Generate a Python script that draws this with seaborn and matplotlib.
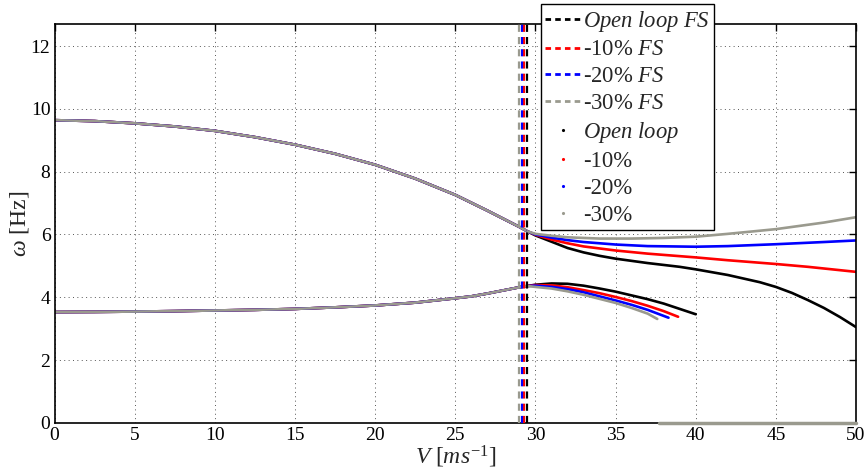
import numpy as np
import pandas as pd
import matplotlib
matplotlib.use("Agg")
import matplotlib.pyplot as plt
import seaborn as sns
from matplotlib.lines import Line2D

# ---------------- data ----------------
series_names = ["Open loop", "-10%", "-20%", "-30%"]
series_colors = ["#000000", "#ff0000", "#0000ff", "#9a9a8e"]
flutter_speeds = [29.45, 29.3, 29.15, 29.0]

# common part of the two modes (all configurations coincide)
v_common = [0, 2.5, 5, 7.5, 10, 12.5, 15, 17.5, 20, 22.5, 25, 26, 27, 28, 29, 29.5]
upper_common = [9.64, 9.61, 9.54, 9.44, 9.30, 9.10, 8.86, 8.57, 8.22, 7.78, 7.26,
                7.01, 6.76, 6.50, 6.24, 6.10]
lower_common = [3.53, 3.535, 3.545, 3.56, 3.58, 3.60, 3.63, 3.68, 3.74, 3.83, 3.97,
                4.03, 4.12, 4.22, 4.32, 4.36]

# upper branch after split
v_up = {
    "Open loop": [30, 31, 32, 33, 34, 35, 37, 39, 40, 42, 44, 45, 46, 47, 48, 49, 50],
    "-10%": [30, 31, 32, 33, 35, 37, 39, 40, 42, 45, 47, 50],
    "-20%": [30, 31, 32, 33, 35, 37, 40, 42, 45, 48, 50],
    "-30%": [30, 31, 32, 34, 36, 38, 40, 42, 45, 48, 50],
}
w_up = {
    "Open loop": [5.97, 5.77, 5.57, 5.43, 5.32, 5.23, 5.09, 4.97, 4.89, 4.71, 4.48,
                  4.33, 4.14, 3.91, 3.66, 3.37, 3.05],
    "-10%": [5.99, 5.84, 5.72, 5.62, 5.49, 5.39, 5.31, 5.27, 5.18, 5.06, 4.97, 4.81],
    "-20%": [6.00, 5.90, 5.82, 5.76, 5.68, 5.63, 5.61, 5.63, 5.69, 5.76, 5.81],
    "-30%": [6.02, 5.96, 5.91, 5.87, 5.87, 5.89, 5.93, 6.02, 6.17, 6.38, 6.55],
}
# lower branch after split
v_low = {
    "Open loop": [30, 31, 32, 33, 34, 35, 36, 37, 38, 39, 40],
    "-10%": [30, 31, 32, 33, 34, 35, 36, 37, 38, 38.9],
    "-20%": [30, 31, 32, 33, 34, 35, 36, 37, 38.3],
    "-30%": [30, 31, 32, 33, 34, 35, 36, 37, 37.6],
}
w_low = {
    "Open loop": [4.40, 4.44, 4.43, 4.37, 4.28, 4.18, 4.06, 3.94, 3.80, 3.63, 3.46],
    "-10%": [4.39, 4.38, 4.32, 4.23, 4.13, 4.01, 3.88, 3.73, 3.56, 3.38],
    "-20%": [4.37, 4.33, 4.26, 4.16, 4.03, 3.90, 3.76, 3.60, 3.35],
    "-30%": [4.33, 4.28, 4.19, 4.08, 3.95, 3.82, 3.66, 3.48, 3.31],
}
# overdamped (zero frequency) segment
v_zero = [37.7, 50]
w_zero = [0, 0]

x_ticks = [0, 5, 10, 15, 20, 25, 30, 35, 40, 45, 50]
y_ticks = [0, 2, 4, 6, 8, 10, 12]

# ---------------- style ----------------
sns.set_theme(style="white")
plt.rcParams["font.family"] = ["Liberation Serif", "DejaVu Serif"]
plt.rcParams["mathtext.fontset"] = "custom"
plt.rcParams["mathtext.rm"] = "Liberation Serif"
plt.rcParams["mathtext.it"] = "Liberation Serif:italic"
plt.rcParams["mathtext.bf"] = "Liberation Serif:bold"

fig = plt.figure(figsize=(8.66, 4.72), dpi=100)
ax = fig.add_axes([0.063, 0.104, 0.9255, 0.845])

lw = 1.9
for name, col in zip(series_names, series_colors):
    sns.lineplot(x=v_common, y=upper_common, color=col, lw=lw, ax=ax, sort=False,
                 legend=False, estimator=None)
    sns.lineplot(x=v_common, y=lower_common, color=col, lw=lw, ax=ax, sort=False,
                 legend=False, estimator=None)
for name, col in zip(series_names, series_colors):
    sns.lineplot(x=[v_common[-1]] + v_up[name], y=[upper_common[-1]] + w_up[name],
                 color=col, lw=lw, ax=ax, sort=False, legend=False, estimator=None)
    sns.lineplot(x=[v_common[-1]] + v_low[name], y=[lower_common[-1]] + w_low[name],
                 color=col, lw=lw, ax=ax, sort=False, legend=False, estimator=None)
sns.lineplot(x=v_zero, y=w_zero, color=series_colors[3], lw=2.5, ax=ax,
             legend=False, estimator=None, clip_on=False, zorder=5)

for vf, col in zip(flutter_speeds, series_colors):
    ax.axvline(vf, color=col, lw=1.6, dashes=(3.2, 2.3), zorder=4)

ax.set_xlim(0, 50)
ax.set_ylim(0, 12.7)
ax.set_xticks(x_ticks)
ax.set_yticks(y_ticks)
ax.set_xticklabels([str(t) for t in x_ticks])
ax.set_yticklabels([str(t) for t in y_ticks])
ax.grid(True, color="#555555", linestyle=(0, (1, 3.5)), linewidth=0.7)
ax.tick_params(direction="in", length=5, width=1, top=True, right=True,
               labelsize=14, colors="black", pad=3)
for sp in ax.spines.values():
    sp.set_visible(True)
    sp.set_color("black")
    sp.set_linewidth(1.2)

ax.set_xlabel(r"$V\ [ms^{-1}]$", fontsize=17, labelpad=0)
ax.set_ylabel(r"$\omega$ [Hz]", fontsize=17, labelpad=0)

handles = []
labels = []
for name, col in zip(series_names, series_colors):
    handles.append(Line2D([], [], color=col, lw=2, dashes=(2.0, 1.5)))
labels += [r"$Open\ loop\ FS$", r"-10% $FS$", r"-20% $FS$", r"-30% $FS$"]
for name, col in zip(series_names, series_colors):
    handles.append(Line2D([], [], color=col, lw=0, marker=".", markersize=2.5))
labels += [r"$Open\ loop$", "-10%", "-20%", "-30%"]

leg = fig.legend(handles, labels, loc="upper left", bbox_to_anchor=(0.6245, 0.9915),
                 fontsize=16.3, frameon=True, fancybox=False, framealpha=1,
                 edgecolor="black", handlelength=1.6, handletextpad=0.05,
                 labelspacing=0.26, borderpad=0.2, borderaxespad=0)
leg.get_frame().set_linewidth(1.0)
leg.set_zorder(10)

fig.savefig("out.png", dpi=100)
